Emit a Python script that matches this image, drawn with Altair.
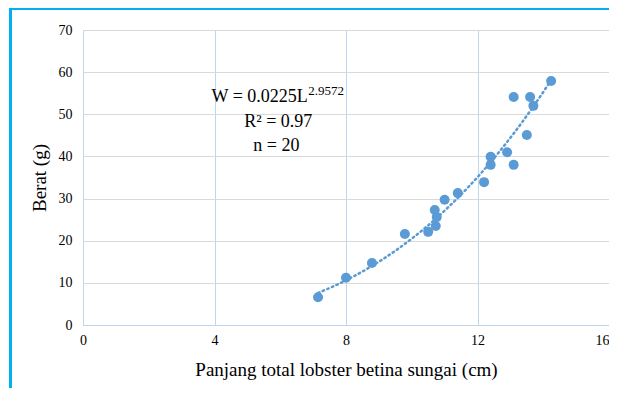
import altair as alt
import pandas as pd

length_cm = [7.15, 8.0, 8.79, 9.79, 10.5, 10.73, 10.76, 10.7, 11.0, 11.4,
             12.2, 12.4, 12.4, 12.9, 13.1, 13.5, 13.1, 13.6, 13.7, 14.24]
weight_g = [6.6, 11.2, 14.7, 21.6, 22.1, 23.5, 25.6, 27.3, 29.7, 31.3,
            33.9, 38.0, 39.9, 41.0, 38.0, 45.1, 54.1, 54.1, 52.0, 57.9]

x_ticks = [0, 4, 8, 12, 16]
y_ticks = [0, 10, 20, 30, 40, 50, 60, 70]

ann_text = ["W = 0.0225L", "R\u00b2 = 0.97", "n = 20"]
ann_x = [3.91, 5.94, 5.88]
ann_y = [54.1, 48.2, 42.4]
sup_text = ["2.9572"]
sup_x = [6.85]
sup_y = [55.5]

df = pd.DataFrame({"L": length_cm, "W": weight_g})
ann = pd.DataFrame({"t": ann_text, "x": ann_x, "y": ann_y})
sup = pd.DataFrame({"t": sup_text, "x": sup_x, "y": sup_y})

BLUE = "#5b9bd5"
SERIF = "Liberation Serif"

xs = alt.Scale(domain=[0, 16], nice=False)
ys = alt.Scale(domain=[0, 70], nice=False)

xaxis = alt.Axis(values=x_ticks, title="Panjang total lobster betina sungai (cm)",
                 grid=True, gridColor="#bdd7ee", gridWidth=1, domainColor="#bdd7ee",
                 ticks=False, labelFont=SERIF, labelFontSize=14, labelColor="#000000",
                 labelPadding=8, titleFont=SERIF, titleFontSize=19, titleFontWeight="normal",
                 titleColor="#000000", titlePadding=13, labelFlush=False,
                 labelAlign={"expr": "datum.value == 16 ? 'right' : 'center'"})
yaxis = alt.Axis(values=y_ticks, title="Berat (g)", grid=True, gridColor="#d9d9d9",
                 gridWidth=1, domainColor="#bdd7ee", ticks=False, labelFont=SERIF,
                 labelFontSize=14, labelColor="#000000", labelPadding=11,
                 titleFont=SERIF, titleFontSize=19, titleFontWeight="normal",
                 titleColor="#000000", titlePadding=9, labelFlush=False)

points = alt.Chart(df).mark_circle(size=100, color=BLUE, opacity=1).encode(
    x=alt.X("L:Q", scale=xs, axis=xaxis),
    y=alt.Y("W:Q", scale=ys, axis=yaxis),
)

trend = alt.Chart(df).transform_regression("L", "W", method="pow").mark_line(
    color=BLUE, strokeWidth=2.5, strokeDash=[1.5, 3.5], strokeCap="round"
).encode(x=alt.X("L:Q", scale=xs), y=alt.Y("W:Q", scale=ys))

t_left = alt.Chart(ann.iloc[[0]]).mark_text(font=SERIF, fontSize=18, color="#000000",
                                           baseline="middle", align="left").encode(
    x=alt.X("x:Q", scale=xs), y=alt.Y("y:Q", scale=ys), text="t:N")
t_center = alt.Chart(ann.iloc[1:]).mark_text(font=SERIF, fontSize=18, color="#000000",
                                            baseline="middle", align="center").encode(
    x=alt.X("x:Q", scale=xs), y=alt.Y("y:Q", scale=ys), text="t:N")
t_sup = alt.Chart(sup).mark_text(font=SERIF, fontSize=13, color="#000000",
                                 baseline="middle", align="left").encode(
    x=alt.X("x:Q", scale=xs), y=alt.Y("y:Q", scale=ys), text="t:N")

border_left = alt.Chart(df).mark_rule(color="#00b0f0", strokeWidth=2).encode(
    x=alt.value(-72.5), y=alt.value(-21.5), y2=alt.value(400))
border_top = alt.Chart(df).mark_rule(color="#00b0f0", strokeWidth=2).encode(
    x=alt.value(-72.5), x2=alt.value(600), y=alt.value(-21.5))

chart = alt.layer(trend, points, t_left, t_center, t_sup, border_left, border_top).properties(
    width=526, height=295,
    background="#ffffff",
    autosize=alt.AutoSizeParams(type="none"),
    padding={"left": 75, "top": 22, "right": 0, "bottom": 63},
).configure_view(stroke="#bdd7ee", strokeWidth=1)

chart.save("out.html", embed_options={"renderer": "svg", "actions": False})
